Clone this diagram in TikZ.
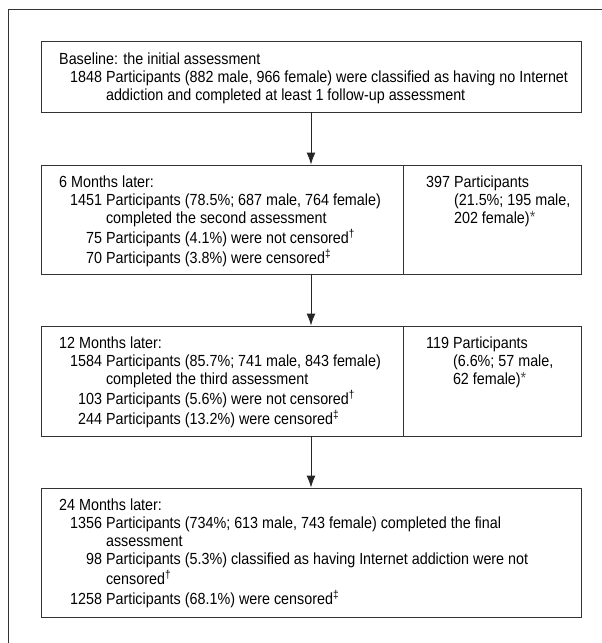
\documentclass[tikz,border=0pt]{standalone}
\usepackage{fontspec}
\setmainfont[FakeStretch=0.89]{Liberation Sans}
\usetikzlibrary{arrows.meta}
\tikzset{
	stage/.style={draw=black!80, line width=0.9pt, rectangle, inner sep=0pt},
	txt/.style={anchor=base west, inner sep=0pt, text=black, font=\fontsize{16.1}{18}\selectfont},
	flow/.style={draw=black!85, line width=0.9pt, -{Latex[length=12pt,width=9pt]}},
}
\newcommand{\dg}{\textsuperscript{†}}
\newcommand{\ddg}{\textsuperscript{‡}}
\newcommand{\lossmark}{\raisebox{1.5pt}{\color{black!70}*}}
\begin{document}
\begin{tikzpicture}[x=1pt, y=-1pt]
	\clip (0,0) rectangle (602,643);
	% outer frame, runs off the right and bottom edges
	\draw[black!80, line width=0.9pt] (8,9) rectangle (640,680);
	% stage boxes
	\node[stage, minimum width=540pt, minimum height=71pt] (base) at (311,76.5){};
	\node[stage, minimum width=540pt, minimum height=109pt] (m6) at (311,219.5){};
	\node[stage, minimum width=178pt, minimum height=109pt, anchor=north east] (drop6) at (m6.north east){};
	\node[stage, minimum width=540pt, minimum height=110pt] (m12) at (311,381){};
	\node[stage, minimum width=178pt, minimum height=110pt, anchor=north east] (drop12) at (m12.north east){};
	\node[stage, minimum width=540pt, minimum height=129pt] (m24) at (311,552.5){};
	% texts
	\node[txt] (t0) at (59,64){\begin{tabular}[t]{@{\hspace{11pt}}r@{\ }l@{}}
		\multicolumn{2}{@{}l@{}}{Baseline: the initial assessment}\\
		1848 & Participants (882 male, 966 female) were classified as having no Internet\\
		 & addiction and completed at least 1 follow-up assessment
	\end{tabular}};
	\node[txt] (t6) at (59,187.7){\begin{tabular}[t]{@{\hspace{11pt}}r@{\ }l@{}}
		\multicolumn{2}{@{}l@{}}{6 Months later:}\\
		1451 & Participants (78.5\%; 687 male, 764 female)\\
		 & completed the second assessment\\
		75 & Participants (4.1\%) were not censored\dg\\
		70 & Participants (3.8\%) were censored\ddg
	\end{tabular}};
	\node[txt] (d6) at (426,187.7){\begin{tabular}[t]{@{}l@{\ }l@{}}
		397 & Participants\\
		 & (21.5\%; 195 male,\\
		 & 202 female)\lossmark
	\end{tabular}};
	\node[txt] (t12) at (59,348.7){\begin{tabular}[t]{@{\hspace{11pt}}r@{\ }l@{}}
		\multicolumn{2}{@{}l@{}}{12 Months later:}\\
		1584 & Participants (85.7\%; 741 male, 843 female)\\
		 & completed the third assessment\\
		103 & Participants (5.6\%) were not censored\dg\\
		244 & Participants (13.2\%) were censored\ddg
	\end{tabular}};
	\node[txt] (d12) at (426,348.7){\begin{tabular}[t]{@{}l@{\ }l@{}}
		119 & Participants\\
		 & (6.6\%; 57 male,\\
		 & 62 female)\lossmark
	\end{tabular}};
	\node[txt] (t24) at (59,510.7){\begin{tabular}[t]{@{\hspace{11pt}}r@{\ }l@{}}
		\multicolumn{2}{@{}l@{}}{24 Months later:}\\
		1356 & Participants (734\%; 613 male, 743 female) completed the final\\
		 & assessment\\
		98 & Participants (5.3\%) classified as having Internet addiction were not\\
		 & censored\dg\\
		1258 & Participants (68.1\%) were censored\ddg
	\end{tabular}};
	% arrows
	\draw[flow] (base.south) -- (m6.north);
	\draw[flow] (m6.south) -- (m12.north);
	\draw[flow] (m12.south) -- (m24.north);
\end{tikzpicture}
\end{document}
